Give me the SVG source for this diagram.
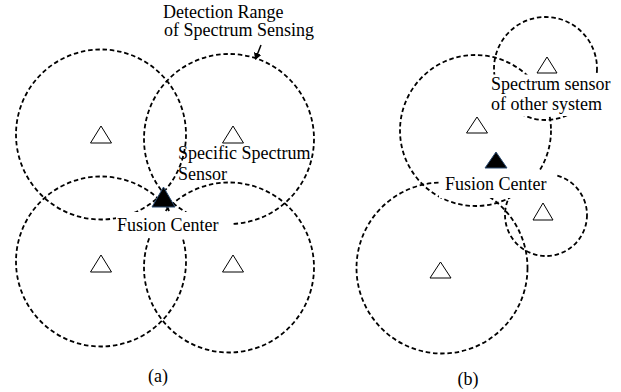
<svg xmlns="http://www.w3.org/2000/svg" width="621" height="392" viewBox="0 0 621 392">
<style>
.rng{fill:none;stroke:#000;stroke-width:1.8;stroke-dasharray:4.5 2.8}
.s{fill:#fff;stroke:#000;stroke-width:1}
.fc{fill:#000;stroke:#2a4a70;stroke-width:1}
text{font-family:'Liberation Serif','Times New Roman',Times,'DejaVu Serif',serif;font-size:18px;fill:#000}
.bg{fill:#fff}
</style>
<defs>
<marker id="ah" markerWidth="8" markerHeight="8" refX="6" refY="4" orient="auto" markerUnits="userSpaceOnUse">
<path d="M0,0 L7,4 L0,8 Z" fill="#000"/>
</marker>
</defs>
<rect width="621" height="392" fill="#fff"/>
<!-- Panel (a) -->
<g id="a-sensor-tl"><circle class="rng" cx="101" cy="134.5" r="85"/><polygon class="s" points="101,126 111.5,143 90.5,143"/></g>
<g id="a-sensor-tr"><circle class="rng" cx="229" cy="139" r="85"/><polygon class="s" points="233,126 243.5,143 222.5,143"/></g>
<g id="a-sensor-bl"><circle class="rng" cx="101" cy="261.5" r="85"/><polygon class="s" points="101,255 111.5,272 90.5,272"/></g>
<g id="a-sensor-br"><circle class="rng" cx="229" cy="267.5" r="85"/><polygon class="s" points="233,255 243.5,272 222.5,272"/></g>
<g id="a-fusion"><rect class="bg" x="116" y="212" width="115" height="26"/><polygon class="fc" points="163.5,187 175,207 152,207"/><text x="117" y="231">Fusion Center</text></g>
<g id="a-specific-label"><text x="178" y="159">Specific Spectrum</text><text x="178" y="180">Sensor</text></g>
<g id="a-range-label"><text x="163" y="18">Detection Range</text><text x="164" y="36">of Spectrum Sensing</text></g>
<g id="a-caption"><text x="158" y="382" text-anchor="middle">(a)</text></g>
<!-- Panel (b) -->
<g id="b-sensor-main"><circle class="rng" cx="475.5" cy="130.5" r="75.5"/><polygon class="s" points="477,117 487.5,133 466.5,133"/></g>
<g id="b-sensor-other"><circle class="rng" cx="545.5" cy="68.5" r="51.5"/><polygon class="s" points="547,57 557,73 537,73"/></g>
<g id="b-sensor-small"><circle class="rng" cx="546" cy="215" r="41"/><polygon class="s" points="543,203 553,220 533,220"/></g>
<g id="b-sensor-bl"><circle class="rng" cx="442" cy="268" r="85.5"/><polygon class="s" points="440.5,262 451,278 430,278"/></g>
<g id="b-other-label"><rect class="bg" x="489" y="74.5" width="126" height="41.5"/><text x="491" y="90" font-size="17">Spectrum sensor</text><text x="491" y="110" font-size="17">of other system</text></g>
<g id="b-fusion"><rect class="bg" x="439" y="171" width="116" height="27"/><polygon class="fc" points="496,152 507,168 485,168"/><text x="445" y="190">Fusion Center</text></g>
<g id="b-caption"><text x="468" y="385" text-anchor="middle">(b)</text></g>
<g id="connectors"><line x1="261" y1="45" x2="255.5" y2="59" stroke="#000" stroke-width="1.5" marker-end="url(#ah)"/></g>
</svg>
